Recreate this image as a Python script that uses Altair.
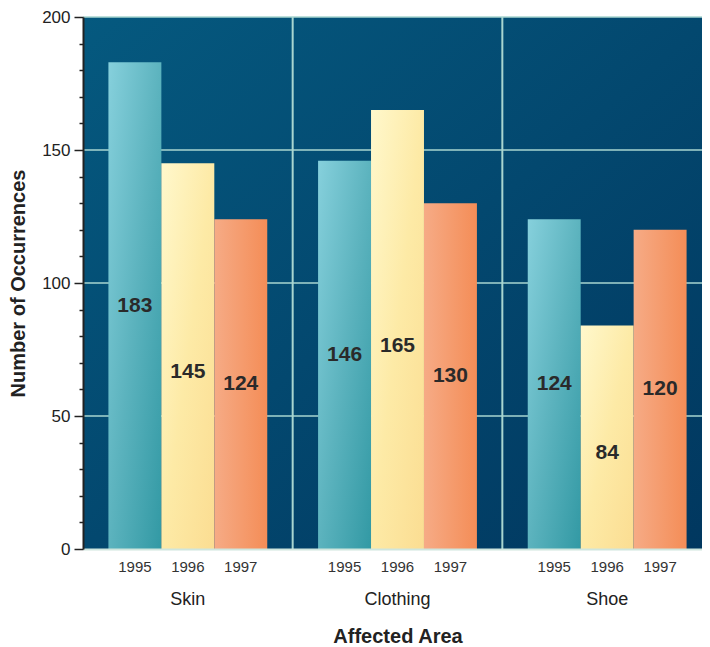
import altair as alt
import pandas as pd

areas = ["Skin", "Clothing", "Shoe"]
years = ["1995", "1996", "1997"]
values_1995 = [183, 146, 124]
values_1996 = [145, 165, 84]
values_1997 = [124, 130, 120]
grid_values = [50, 100, 150, 200]
y_ticks = list(range(0, 201, 10))

W, H = 629, 532

rows = []
for yr, vals in zip(years, [values_1995, values_1996, values_1997]):
    for a, v in zip(areas, vals):
        rows.append({"area": a, "year": yr, "value": v})
df = pd.DataFrame(rows)


def grad(stops, x2=1, y2=0):
    return alt.LinearGradient(
        gradient="linear",
        stops=[alt.GradientStop(offset=o, color=c) for o, c in stops],
        x1=0, y1=0, x2=x2, y2=y2,
    )


bar_grads = {
    "1995": grad([(0, "#86d0dc"), (0.5, "#5cb3be"), (1, "#3299a4")], x2=1, y2=1),
    "1996": grad([(0, "#fff8cc"), (0.5, "#fdeaa6"), (1, "#fbdd92")], x2=1, y2=1),
    "1997": grad([(0, "#f6ab86"), (1, "#f48d57")], x2=1, y2=0),
}
label_dy = {"1995": 0, "1996": 16, "1997": 0}
FONT = "Liberation Sans"

x_axis = alt.Axis(
    title="Affected Area", labelAngle=0, labelPadding=41, ticks=False,
    domainColor="#cfe6de", domainWidth=2, labelFontSize=18, labelColor="#222",
    labelFont=FONT, titleFont=FONT,
    titleFontSize=20, titleFontWeight="bold", titleColor="#222",
    titlePadding=18, grid=False, zindex=1,
)
x_scale = alt.Scale(paddingInner=0, paddingOuter=0)
x_enc = alt.X("area:N", sort=areas, scale=x_scale, axis=x_axis)
xo_enc = alt.XOffset("year:N", sort=years,
                     scale=alt.Scale(paddingInner=0, paddingOuter=0.48))
y_axis = alt.Axis(
    title="Number of Occurrences", values=y_ticks,
    labelExpr="datum.value % 50 === 0 ? datum.label : ''",
    labelOverlap=False,
    tickSize={"condition": {"test": "datum.value % 50 === 0", "value": 9}, "value": 4},
    tickColor="#222", tickWidth=1.5, domainColor="#222", domainWidth=2,
    labelFontSize=17, labelColor="#222", labelPadding=4,
    labelFont=FONT, titleFont=FONT,
    titleFontSize=20, titleFontWeight="bold", titleColor="#222",
    titlePadding=13, grid=False, zindex=1,
)
y_scale = alt.Scale(domain=[0, 200], nice=False)
y_enc = alt.Y("value:Q", scale=y_scale, axis=y_axis)

bg = alt.Chart(pd.DataFrame({"bg": [1]})).mark_rect(
    fill=grad([(0, "#05597f"), (1, "#01375f")], x2=1, y2=1)
).encode(x=alt.value(0), x2=alt.value(W), y=alt.value(0), y2=alt.value(H))

hrules = alt.Chart(pd.DataFrame({"value": grid_values})).mark_rule(
    color="#a9d6d0", strokeWidth=1.5
).encode(y=y_enc)

vrules = alt.Chart(pd.DataFrame({"area": areas[1:]})).mark_rule(
    color="#a9d6d0", strokeWidth=2
).encode(x=alt.X("area:N", sort=areas, bandPosition=0, scale=x_scale, axis=x_axis))

layers = [bg, hrules, vrules]
for yr in years:
    layers.append(
        alt.Chart(df).transform_filter(alt.datum.year == yr)
        .mark_bar(fill=bar_grads[yr], stroke=None)
        .encode(x=x_enc, xOffset=xo_enc, y=y_enc)
    )
for yr in years:
    layers.append(
        alt.Chart(df).transform_filter(alt.datum.year == yr)
        .transform_calculate(mid="datum.value / 2")
        .mark_text(fontSize=21, fontWeight="bold", color="#2a2a2a",
                   font=FONT, dy=label_dy[yr])
        .encode(x=x_enc, xOffset=xo_enc,
                y=alt.Y("mid:Q", scale=y_scale, axis=y_axis), text="value:Q")
    )
layers.append(
    alt.Chart(df).mark_text(fontSize=15, color="#333", font=FONT)
    .encode(x=x_enc, xOffset=xo_enc, y=alt.value(H + 18), text="year:N")
)

chart = alt.layer(*layers).properties(
    width=W, height=H,
    padding={"left": 0, "top": 0, "right": -11, "bottom": 0},
).configure_view(stroke=None)

chart.save("out.html", embed_options={"renderer": "svg", "actions": False})
